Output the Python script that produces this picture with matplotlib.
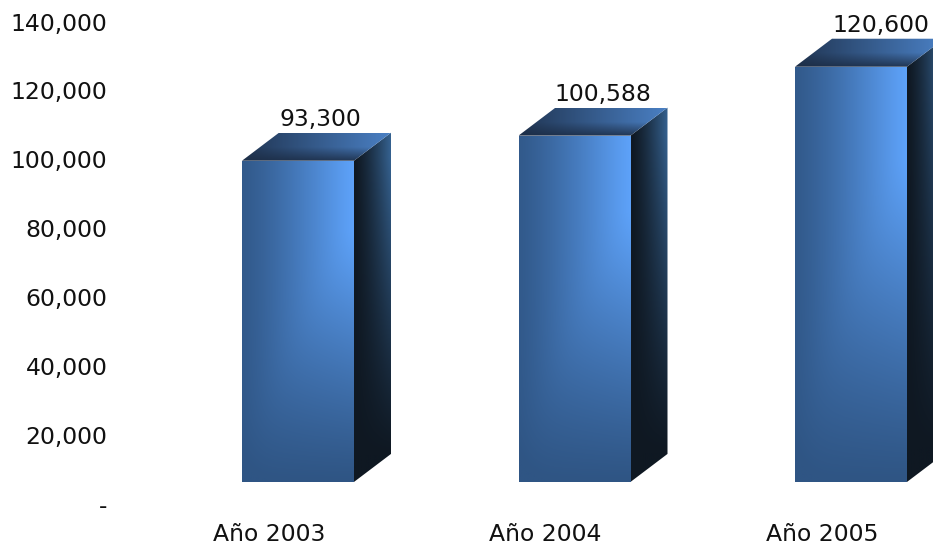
import numpy as np
import matplotlib
matplotlib.use('Agg')
import matplotlib.pyplot as plt
from matplotlib.patches import Polygon
from matplotlib.colors import to_rgb
from matplotlib.transforms import ScaledTranslation

categories = ['Año 2003', 'Año 2004', 'Año 2005']
values = [93300, 100588, 120600]
y_ticks = [0, 20000, 40000, 60000, 80000, 100000, 120000, 140000]
y_tick_labels = ['-', '20,000', '40,000', '60,000', '80,000', '100,000', '120,000', '140,000']

# the 3D box floats above the axis zero
floor = 6700
px_x = 276.5           # pixels per category
px_y = 482 / 140000    # pixels per value unit
bar_w = 112 / px_x
bar_shift = 29 / px_x
depth_x = 37 / px_x
depth_y = 28 / px_y
label_dx = [22, 28.5, 29.5]


def lerp(c0, c1, t):
    c0, c1 = np.array(to_rgb(c0)), np.array(to_rgb(c1))
    return c0 + (c1 - c0) * t[..., None]


def face_front():
    u, v = np.meshgrid(np.linspace(0, 1, 120), np.linspace(1, 0, 300))
    across = 0.06 + 0.94 * u ** 1.25
    down = np.clip(v / 0.78, 0, 1) ** 1.15 * (0.62 + 0.38 * u)
    # soft minimum leaves the slanted crease in the lower half
    t = -np.log(np.exp(-14 * across) + np.exp(-14 * down)) / 14
    return lerp('#2f5584', '#60a6ff', np.clip(t, 0, 1))


def face_side():
    u, v = np.meshgrid(np.linspace(0, 1, 40), np.linspace(1, 0, 300))
    t = u ** 1.3 * np.clip((v - 0.08) / 0.85, 0, 1) ** 1.1
    return lerp('#0f1822', '#35618f', t)


def face_top():
    u, v = np.meshgrid(np.linspace(0, 1, 120), np.linspace(1, 0, 40))
    t = np.clip(0.1 + 0.9 * u, 0, 1) * np.clip(0.15 + 1.7 * v, 0, 1)
    return lerp('#1c2d46', '#4a80c4', t)


fig = plt.figure(figsize=(9.33, 5.46), dpi=100)
ax = fig.add_axes([120 / 933, 1 - 505 / 546, 813 / 933, 482 / 546])
x0 = (269 - 120) / px_x

for i, val in enumerate(values):
    left = i + bar_shift - bar_w / 2
    right = left + bar_w
    bottom = floor
    top = floor + val

    front = [(left, bottom), (right, bottom), (right, top), (left, top)]
    side = [(right, bottom), (right + depth_x, bottom + depth_y),
            (right + depth_x, top + depth_y), (right, top)]
    cap = [(left, top), (right, top), (right + depth_x, top + depth_y),
           (left + depth_x, top + depth_y)]

    for poly, img, ext in [
        (front, face_front(), (left, right, bottom, top)),
        (side, face_side(), (right, right + depth_x, bottom, top + depth_y)),
        (cap, face_top(), (left, right + depth_x, top, top + depth_y)),
    ]:
        im = ax.imshow(img, extent=ext, aspect='auto', origin='upper', zorder=2)
        patch = Polygon(poly, closed=True, transform=ax.transData, fc='none', ec='none')
        ax.add_patch(patch)
        im.set_clip_path(patch)

    ax.annotate(f'{val:,}', (i + bar_shift, top + depth_y), xytext=(label_dx[i] * 0.72, 1),
                textcoords='offset points', ha='center', va='bottom',
                fontsize=16.9, color='#111111', annotation_clip=False)

ax.set_xlim(-x0, 813 / px_x - x0)
ax.set_ylim(0, 140000)

ax.set_xticks(range(len(categories)))
ax.set_xticklabels(categories, fontsize=16.9, color='#111111')
ax.set_yticks(y_ticks)
ax.set_yticklabels(y_tick_labels, fontsize=16.9, color='#111111')
ax.tick_params(axis='x', length=0, pad=13)
ax.tick_params(axis='y', length=0, pad=9)
nudge = ScaledTranslation(0, 1.5 / 100, fig.dpi_scale_trans)
for lab in ax.get_yticklabels():
    lab.set_transform(lab.get_transform() + nudge)
for s in ax.spines.values():
    s.set_visible(False)

fig.savefig('out.png', dpi=100)
